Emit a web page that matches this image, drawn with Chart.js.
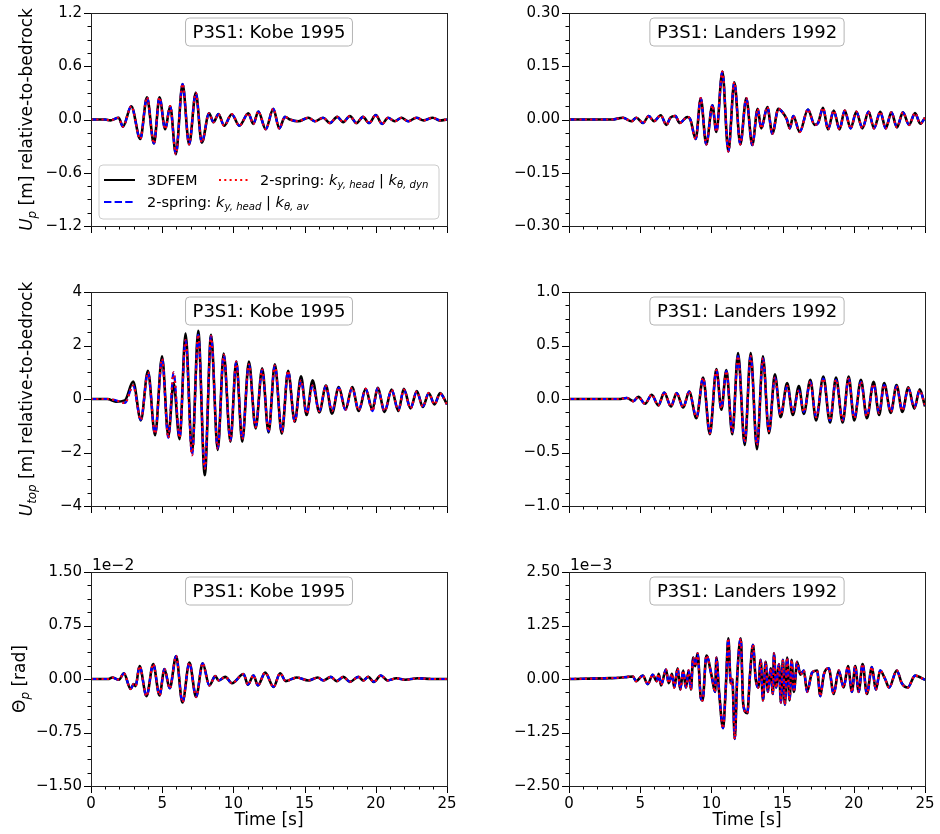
<!DOCTYPE html>
<html>
<head>
<meta charset="utf-8">
<script src="https://cdn.jsdelivr.net/npm/chart.js@4.4.0/dist/chart.umd.min.js"></script>
<style>
    body { margin: 0; background: #fff; }
    #wrap { position: relative; width: 940px; height: 834px; overflow: hidden; }
    #wrap canvas { position: absolute; }
</style>
</head>
<body>
<div id="wrap">
    <canvas id="kobeUp" width="470" height="280" style="left:0;top:0"></canvas>
    <canvas id="landersUp" width="470" height="280" style="left:470px;top:0"></canvas>
    <canvas id="kobeTop" width="470" height="280" style="left:0;top:280px"></canvas>
    <canvas id="landersTop" width="470" height="280" style="left:470px;top:280px"></canvas>
    <canvas id="kobeTheta" width="470" height="284" style="left:0;top:550px"></canvas>
    <canvas id="landersTheta" width="470" height="284" style="left:470px;top:550px"></canvas>
</div>
<script>
// time axis shared by all panels [s]
var timeTicks = [0, 5, 10, 15, 20, 25];

// Kobe 1995 - pile displacement U_p [m]
var kobeUpTime = [0, 1.0, 1.35, 1.94, 2.24, 2.83, 3.46, 3.93, 4.42, 4.81, 5.21, 5.56, 5.96, 6.43, 6.89, 7.36, 7.78, 8.29, 8.6, 8.95,
    9.35, 9.88, 10.42, 11.05, 11.4, 11.75, 12.27, 12.8, 13.22, 13.62, 13.97, 14.56, 15.26, 15.72, 16.3, 16.78, 17.29, 17.71, 18.18, 18.64,
    19.1, 19.53, 20.0, 20.44, 20.86, 21.33, 21.8, 22.27, 22.85, 23.36, 24.0, 24.5, 25];
var kobeUpFem = [0, 0, -0.01, 0.02, -0.08, 0.15, -0.22, 0.25, -0.27, 0.25, -0.11, 0.15, -0.39, 0.40, -0.28, 0.30, -0.26, 0.07, -0.03, 0.06,
    -0.07, 0.06, -0.07, 0.07, -0.05, 0.09, -0.11, 0.12, -0.10, 0.03, 0.0, -0.02, 0.02, -0.02, 0.02, -0.04, 0.03, -0.03, 0.04, -0.04,
    0.03, -0.04, 0.05, -0.05, 0.02, -0.02, 0.02, -0.02, 0.02, -0.01, 0.02, -0.01, 0];
var kobeUpSpring = kobeUpFem;
var kobeUpTicks = [-1.2, -0.6, 0, 0.6, 1.2];

// Landers 1992 - pile displacement U_p [m]
var landersUpTime = [0, 3.0, 3.8, 4.38, 4.73, 5.2, 5.6, 5.97, 6.44, 6.84, 7.12, 7.47, 7.77, 8.31, 8.52, 8.9, 9.25, 9.64, 10.07, 10.35,
    10.77, 11.19, 11.61, 12.03, 12.45, 12.87, 13.25, 13.5, 13.93, 14.28, 14.7, 15.0, 15.3, 15.5, 15.75, 16.2, 16.78, 17.25, 17.49, 17.84,
    18.19, 18.59, 19.0, 19.36, 19.78, 20.18, 20.6, 21.04, 21.42, 21.86, 22.24, 22.64, 23.03, 23.45, 23.88, 24.3, 24.67, 25];
var landersUpFem = [0, 0, 0.005, -0.005, 0.005, -0.01, 0.01, -0.005, 0.012, -0.015, 0.005, 0.01, -0.01, 0.007, 0.0, -0.055, 0.06, -0.07, 0.04, -0.035,
    0.135, -0.09, 0.105, -0.07, 0.06, -0.072, 0.03, -0.025, 0.035, -0.04, 0.03, 0.02, 0.0, -0.025, 0.01, -0.035, 0.028, -0.015, -0.01, 0.033,
    -0.028, 0.025, -0.028, 0.025, -0.025, 0.022, -0.025, 0.022, -0.025, 0.022, -0.025, 0.02, -0.022, 0.02, -0.015, 0.018, -0.012, 0.005];
var landersUpSpring = landersUpFem;
var landersUpTicks = [-0.3, -0.15, 0, 0.15, 0.3];

// Kobe 1995 - top displacement U_top [m]
var kobeTopTime = [0, 1.16, 1.75, 2.38, 2.96, 3.5, 4.0, 4.5, 4.99, 5.43, 5.8, 6.22, 6.64, 7.1, 7.53, 7.99, 8.43, 8.9, 9.32, 9.79,
    10.2, 10.62, 11.09, 11.56, 12.02, 12.47, 12.91, 13.4, 13.84, 14.31, 14.75, 15.14, 15.56, 16.03, 16.5, 16.92, 17.4, 17.87, 18.34, 18.8,
    19.29, 19.76, 20.13, 20.62, 21.11, 21.58, 21.97, 22.44, 22.88, 23.3, 23.72, 24.12, 24.51, 25];
var kobeTopFem = [0, 0, -0.1, -0.05, 0.65, -0.8, 1.05, -1.35, 1.6, -1.4, 0.6, -1.5, 2.45, -2.0, 2.55, -2.85, 2.4, -1.9, 1.7, -1.6,
    1.4, -1.6, 1.4, -1.1, 1.15, -1.25, 1.3, -1.3, 1.05, -0.85, 0.85, -0.6, 0.7, -0.5, 0.5, -0.55, 0.45, -0.4, 0.45, -0.45,
    0.38, -0.4, 0.42, -0.48, 0.35, -0.45, 0.38, -0.35, 0.3, -0.3, 0.22, -0.2, 0.22, -0.2];
var kobeTopSpring = [0, 0, -0.05, -0.15, 0.5, -0.78, 1.0, -1.3, 1.5, -1.45, 1.0, -1.45, 2.2, -2.1, 2.4, -2.6, 2.35, -1.85, 1.65, -1.55,
    1.4, -1.5, 1.3, -1.05, 1.1, -1.2, 1.25, -1.25, 1.05, -0.85, 0.7, -0.55, 0.5, -0.45, 0.48, -0.45, 0.42, -0.4, 0.42, -0.42,
    0.38, -0.45, 0.4, -0.45, 0.35, -0.42, 0.35, -0.35, 0.28, -0.28, 0.22, -0.2, 0.2, -0.2];
var kobeTopTicks = [-4, -2, 0, 2, 4];

// Landers 1992 - top displacement U_top [m]
var landersTopTime = [0, 3.5, 4.06, 4.52, 4.87, 5.34, 5.81, 6.27, 6.69, 7.16, 7.56, 8.02, 8.44, 8.95, 9.42, 9.89, 10.35, 10.7, 11.05, 11.47,
    11.87, 12.34, 12.76, 13.2, 13.62, 14.04, 14.46, 14.86, 15.32, 15.72, 16.14, 16.49, 16.95, 17.35, 17.86, 18.33, 18.75, 19.22, 19.64, 20.03,
    20.5, 20.92, 21.39, 21.78, 22.13, 22.6, 23.0, 23.41, 23.83, 24.25, 24.63, 25];
var landersTopFem = [0, 0, 0.01, -0.02, 0.02, -0.045, 0.04, -0.06, 0.06, -0.07, 0.055, -0.08, 0.07, -0.18, 0.2, -0.33, 0.28, -0.1, 0.27, -0.33,
    0.43, -0.43, 0.43, -0.47, 0.4, -0.32, 0.23, -0.17, 0.15, -0.15, 0.12, -0.14, 0.18, -0.2, 0.21, -0.22, 0.2, -0.22, 0.21, -0.2,
    0.18, -0.18, 0.16, -0.15, 0.15, -0.13, 0.13, -0.12, 0.11, -0.09, 0.09, -0.07];
var landersTopSpring = [0, 0, 0.01, -0.02, 0.02, -0.045, 0.04, -0.06, 0.06, -0.07, 0.055, -0.08, 0.07, -0.17, 0.2, -0.32, 0.27, -0.09, 0.26, -0.31,
    0.4, -0.4, 0.4, -0.43, 0.38, -0.3, 0.2, -0.15, 0.12, -0.12, 0.08, -0.12, 0.16, -0.17, 0.19, -0.2, 0.18, -0.2, 0.19, -0.18,
    0.16, -0.16, 0.14, -0.13, 0.13, -0.12, 0.12, -0.11, 0.1, -0.08, 0.08, -0.06];
var landersTopTicks = [-1, -0.5, 0, 0.5, 1];

// Kobe 1995 - pile head rotation, in units of 1e-2 rad
var kobeThetaTime = [0, 1.2, 1.49, 1.96, 2.31, 2.78, 3.0, 3.13, 3.41, 3.9, 4.37, 4.81, 5.16, 5.53, 5.98, 6.42, 6.91, 7.38, 7.84, 8.31,
    8.73, 8.96, 9.43, 9.9, 10.71, 11.02, 11.41, 11.72, 12.23, 12.82, 13.28, 13.68, 14.1, 14.45, 15.27, 15.92, 16.32, 16.85, 17.25, 17.72,
    18.18, 18.77, 19.12, 19.47, 19.86, 20.35, 20.82, 21.45, 22.04, 22.97, 23.9, 25];
var kobeThetaFem = [0, 0, 0.02, -0.01, 0.08, -0.14, -0.07, -0.1, 0.18, -0.24, 0.21, -0.23, 0.14, -0.13, 0.32, -0.33, 0.23, -0.25, 0.22, -0.09,
    0.04, -0.02, 0.03, -0.06, 0.07, -0.08, 0.05, -0.09, 0.09, -0.11, 0.08, -0.03, 0.0, 0.02, -0.02, 0.02, -0.02, 0.03, -0.03, 0.03,
    -0.04, 0.03, -0.02, 0.03, -0.04, 0.05, -0.02, 0.01, -0.01, 0.01, 0.0, 0];
var kobeThetaSpring = kobeThetaFem;
var kobeThetaTicks = [-1.5, -0.75, 0, 0.75, 1.5];

// Landers 1992 - pile head rotation, in units of 1e-3 rad
var landersThetaTime = [0, 2.85, 3.54, 4.13, 4.48, 4.71, 5.18, 5.53, 5.88, 6.16, 6.3, 6.46, 6.81, 7.0, 7.23, 7.39, 7.63, 7.81, 8.02, 8.21,
    8.4, 8.56, 8.72, 8.86, 9.03, 9.26, 9.38, 9.65, 10.03, 10.26, 10.35, 10.54, 10.82, 11.01, 11.19, 11.36, 11.47, 11.64, 11.82, 12.06,
    12.24, 12.52, 12.71, 12.92, 13.11, 13.29, 13.46, 13.62, 13.81, 13.97, 14.16, 14.32, 14.39, 14.55, 14.74, 14.88, 15.02, 15.16, 15.32, 15.49,
    15.63, 15.79, 16.02, 16.25, 16.49, 16.72, 17.07, 17.42, 17.65, 17.89, 18.24, 18.59, 18.94, 19.29, 19.59, 19.87, 20.1, 20.34, 20.62, 20.92,
    21.27, 21.55, 21.85, 22.2, 22.48, 23.02, 23.37, 23.79, 24.3, 25];
var landersThetaFem = [0, 0.02, 0.03, 0.05, 0.06, -0.05, 0.08, -0.12, 0.1, -0.05, 0.12, -0.15, 0.22, -0.1, 0.12, -0.2, 0.25, -0.25, 0.2, -0.2,
    0.2, -0.25, 0.5, 0.3, 0.6, -0.45, -0.5, 0.55, 0.05, -0.3, 0.5, -0.3, -1.15, -0.2, 0.95, -0.1, 0.0, -1.4, 0.1, 0.95,
    -0.6, -0.8, 0.1, 0.8, 0.0, -0.2, 0.45, -0.5, 0.4, -0.3, 0.25, -0.35, 0.6, -0.2, 0.35, -0.55, 0.45, -0.6, 0.5, -0.5,
    0.45, -0.3, 0.4, 0.1, 0.2, -0.3, 0.15, 0.2, -0.4, 0.1, 0.25, -0.35, 0.2, -0.2, 0.3, -0.3, 0.3, -0.3, 0.35, -0.35,
    0.28, -0.25, 0.2, 0.0, -0.2, 0.2, -0.1, -0.2, 0.08, -0.02];
var landersThetaSpring = landersThetaFem;
var landersThetaTicks = [-2.5, -1.25, 0, 1.25, 2.5];

(function() {
    var FONT = '"DejaVu Sans", "Liberation Sans", sans-serif';

    function pts(t, v) {
        return t.map(function(x, i) { return { x: x, y: v[i] }; });
    }

    function fmtTick(v, d) {
        if (Math.abs(v) < 1e-12) v = 0;
        var s = Math.abs(v).toFixed(d);
        return v < 0 ? '\u2212' + s : s;
    }

    // text made of plain, italic and subscript pieces
    function richWidth(ctx, segs, size) {
        var w = 0;
        segs.forEach(function(s) {
            var sz = s.sub ? size * 0.7 : size;
            ctx.font = (s.it ? 'italic ' : '') + sz + 'px ' + FONT;
            w += ctx.measureText(s.t).width;
        });
        return w;
    }

    function drawRich(ctx, segs, x, y, size) {
        ctx.textAlign = 'left';
        ctx.textBaseline = 'alphabetic';
        segs.forEach(function(s) {
            var sz = s.sub ? size * 0.7 : size;
            ctx.font = (s.it ? 'italic ' : '') + sz + 'px ' + FONT;
            ctx.fillText(s.t, x, y + (s.sub ? size * 0.22 : 0));
            x += ctx.measureText(s.t).width;
        });
    }

    function roundBox(ctx, x, y, w, h, r, fill, stroke) {
        ctx.beginPath();
        ctx.moveTo(x + r, y);
        ctx.arcTo(x + w, y, x + w, y + h, r);
        ctx.arcTo(x + w, y + h, x, y + h, r);
        ctx.arcTo(x, y + h, x, y, r);
        ctx.arcTo(x, y, x + w, y, r);
        ctx.closePath();
        ctx.fillStyle = fill;
        ctx.fill();
        ctx.strokeStyle = stroke;
        ctx.lineWidth = 1;
        ctx.stroke();
    }

    var springLabel = function(sub) {
        return [{ t: '2-spring: ' }, { t: 'k', it: true }, { t: 'y, head', it: true, sub: true },
            { t: ' | ' }, { t: 'k', it: true }, { t: '\u03b8, ' + sub, it: true, sub: true }];
    };

    var panelPlugin = {
        id: 'panel',
        afterDraw: function(chart, args, o) {
            var ctx = chart.ctx, a = chart.chartArea;
            var xs = chart.scales.x, ys = chart.scales.y;
            ctx.save();

            // major and minor tick marks
            ctx.strokeStyle = '#000';
            ctx.lineWidth = 1;
            ctx.beginPath();
            var yt = o.yTicks, yStep = (yt[1] - yt[0]) / 4;
            for (var i = 0; i <= (yt.length - 1) * 4; i++) {
                var py = Math.round(ys.getPixelForValue(yt[0] + i * yStep)) + 0.5;
                var len = i % 4 === 0 ? 7 : 3.5;
                ctx.moveTo(a.left, py);
                ctx.lineTo(a.left - len, py);
            }
            for (var t = timeTicks[0]; t <= timeTicks[timeTicks.length - 1]; t++) {
                var px = Math.round(xs.getPixelForValue(t)) + 0.5;
                var l2 = t % 5 === 0 ? 7 : 3.5;
                ctx.moveTo(px, a.bottom);
                ctx.lineTo(px, a.bottom + l2);
            }
            ctx.stroke();

            // frame
            ctx.strokeStyle = '#222';
            ctx.strokeRect(Math.round(a.left) + 0.5, Math.round(a.top) + 0.5,
                Math.round(a.right - a.left), Math.round(a.bottom - a.top));

            // event label box
            var cx = (a.left + a.right) / 2;
            ctx.font = '18px ' + FONT;
            var tw = ctx.measureText(o.label).width;
            roundBox(ctx, cx - tw / 2 - 7, a.top + 5, tw + 14, 28, 4, 'rgba(255,255,255,0.8)', '#b4b4b4');
            ctx.fillStyle = '#000';
            ctx.textAlign = 'center';
            ctx.textBaseline = 'middle';
            ctx.fillText(o.label, cx, a.top + 20);

            // y axis title
            if (o.yTitle) {
                var size = 17;
                var w = richWidth(ctx, o.yTitle, size);
                ctx.save();
                ctx.translate(o.yTitleX, (a.top + a.bottom) / 2);
                ctx.rotate(-Math.PI / 2);
                ctx.fillStyle = '#000';
                drawRich(ctx, o.yTitle, -w / 2, 0, size);
                ctx.restore();
            }

            // scale factor above the y axis
            if (o.offset) {
                ctx.fillStyle = '#000';
                ctx.font = '15.5px ' + FONT;
                ctx.textAlign = 'left';
                ctx.textBaseline = 'alphabetic';
                ctx.fillText(o.offset, a.left + 1, a.top - 2);
            }

            if (o.xTitle) {
                ctx.fillStyle = '#000';
                ctx.font = '17px ' + FONT;
                ctx.textAlign = 'center';
                ctx.textBaseline = 'middle';
                ctx.fillText('Time [s]', cx, a.bottom + 35);
            }

            // legend
            if (o.legend) {
                var lx = a.left + 8, ly = a.top + 152;
                roundBox(ctx, lx, ly, a.right - a.left - 16, 54, 4, 'rgba(255,255,255,0.8)', '#cccccc');
                var r1 = ly + 15, r2 = ly + 37;
                ctx.lineWidth = 2;
                ctx.strokeStyle = '#000';
                ctx.setLineDash([]);
                ctx.beginPath(); ctx.moveTo(lx + 5, r1); ctx.lineTo(lx + 36, r1); ctx.stroke();
                ctx.strokeStyle = '#ff0000';
                ctx.setLineDash([2, 3.3]);
                ctx.beginPath(); ctx.moveTo(lx + 120, r1); ctx.lineTo(lx + 149, r1); ctx.stroke();
                ctx.strokeStyle = '#0000ff';
                ctx.setLineDash([7.4, 3.2]);
                ctx.beginPath(); ctx.moveTo(lx + 5, r2); ctx.lineTo(lx + 36, r2); ctx.stroke();
                ctx.setLineDash([]);
                ctx.fillStyle = '#000';
                drawRich(ctx, [{ t: '3DFEM' }], lx + 48, r1 + 5, 14.5);
                drawRich(ctx, springLabel('dyn'), lx + 161, r1 + 5, 14.5);
                drawRich(ctx, springLabel('av'), lx + 48, r2 + 5, 14.5);
            }
            ctx.restore();
        }
    };

    function makePanel(id, p) {
        var canvas = document.getElementById(id);
        var H = canvas.height;
        var right = p.col === 0 ? 23 : 15;
        var left = p.col === 0 ? 91 : 99;
        new Chart(canvas, {
            type: 'line',
            data: {
                datasets: [
                    { label: '3DFEM', data: pts(p.time, p.fem), borderColor: '#000', borderWidth: 2.6, order: 2 },
                    { label: '2-spring av', data: pts(p.time, p.spring), borderColor: '#0000ff', borderWidth: 2.2, borderDash: [7.4, 3.2], order: 1 },
                    { label: '2-spring dyn', data: pts(p.time, p.spring), borderColor: '#ff0000', borderWidth: 2.2, borderDash: [2, 3.3], order: 0 }
                ]
            },
            options: {
                responsive: false,
                animation: false,
                events: [],
                elements: {
                    point: { radius: 0 },
                    line: { cubicInterpolationMode: 'monotone', fill: false }
                },
                layout: { padding: { top: p.top, right: right, left: 0, bottom: 0 } },
                plugins: {
                    legend: { display: false },
                    tooltip: { enabled: false },
                    panel: p
                },
                scales: {
                    x: {
                        type: 'linear',
                        min: 0,
                        max: 25,
                        afterBuildTicks: function(s) { s.ticks = timeTicks.map(function(v) { return { value: v }; }); },
                        afterFit: function(s) { s.height = H - p.bottom; },
                        grid: { display: false, drawTicks: true, tickLength: 7 },
                        border: { display: false },
                        ticks: {
                            display: !!p.xTitle,
                            color: '#000',
                            padding: 2,
                            maxRotation: 0,
                            font: { family: FONT, size: 15 },
                            callback: function(v) { return String(v); }
                        }
                    },
                    y: {
                        min: p.yTicks[0],
                        max: p.yTicks[p.yTicks.length - 1],
                        afterBuildTicks: function(s) { s.ticks = p.yTicks.map(function(v) { return { value: v }; }); },
                        afterFit: function(s) { s.width = left; },
                        grid: { display: false, drawTicks: true, tickLength: 7 },
                        border: { display: false },
                        ticks: {
                            color: '#000',
                            padding: 2,
                            font: { family: FONT, size: 15 },
                            callback: function(v) { return fmtTick(v, p.decimals); }
                        }
                    }
                }
            },
            plugins: [panelPlugin]
        });
    }

    var upTitle = [{ t: 'U', it: true }, { t: 'p', it: true, sub: true }, { t: ' [m] relative-to-bedrock' }];
    var topTitle = [{ t: 'U', it: true }, { t: 'top', it: true, sub: true }, { t: ' [m] relative-to-bedrock' }];
    var thetaTitle = [{ t: '\u0398' }, { t: 'p', it: true, sub: true }, { t: ' [rad]' }];

    function init() {
        makePanel('kobeUp', { col: 0, top: 13, bottom: 226, time: kobeUpTime, fem: kobeUpFem, spring: kobeUpSpring, yTicks: kobeUpTicks, decimals: 1,
            label: 'P3S1: Kobe 1995', yTitle: upTitle, yTitleX: 32, legend: true });
        makePanel('landersUp', { col: 1, top: 13, bottom: 226, time: landersUpTime, fem: landersUpFem, spring: landersUpSpring, yTicks: landersUpTicks, decimals: 2,
            label: 'P3S1: Landers 1992' });
        makePanel('kobeTop', { col: 0, top: 12, bottom: 226, time: kobeTopTime, fem: kobeTopFem, spring: kobeTopSpring, yTicks: kobeTopTicks, decimals: 0,
            label: 'P3S1: Kobe 1995', yTitle: topTitle, yTitleX: 32 });
        makePanel('landersTop', { col: 1, top: 12, bottom: 226, time: landersTopTime, fem: landersTopFem, spring: landersTopSpring, yTicks: landersTopTicks, decimals: 1,
            label: 'P3S1: Landers 1992' });
        makePanel('kobeTheta', { col: 0, top: 22, bottom: 236, time: kobeThetaTime, fem: kobeThetaFem, spring: kobeThetaSpring, yTicks: kobeThetaTicks, decimals: 2,
            label: 'P3S1: Kobe 1995', yTitle: thetaTitle, yTitleX: 25, offset: '1e\u22122', xTitle: true });
        makePanel('landersTheta', { col: 1, top: 22, bottom: 236, time: landersThetaTime, fem: landersThetaFem, spring: landersThetaSpring, yTicks: landersThetaTicks, decimals: 2,
            label: 'P3S1: Landers 1992', offset: '1e\u22123', xTitle: true });
    }

    if (document.readyState === 'loading') {
        document.addEventListener('DOMContentLoaded', init);
    } else {
        init();
    }
})();
</script>
</body>
</html>
